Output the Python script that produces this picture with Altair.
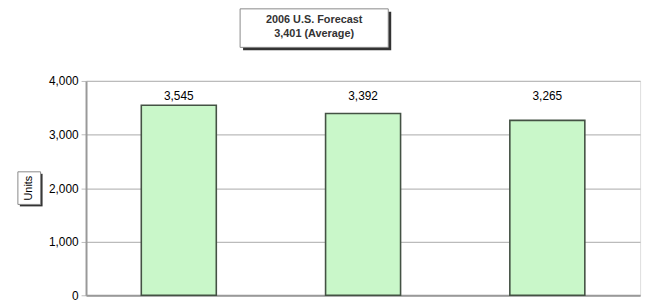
import altair as alt
import pandas as pd

categories = ["A", "B", "C"]
values = [3545, 3392, 3265]
labels = ["3,545", "3,392", "3,265"]
title_lines = ["2006 U.S. Forecast", "3,401 (Average)"]
y_title = "Units"

df = pd.DataFrame({"cat": categories, "value": values, "label": labels})

W, H = 561, 217
FONT = "Liberation Sans"

xscale = alt.Scale(domain=categories, paddingInner=0.593, paddingOuter=0.3)
yscale = alt.Scale(domain=[0, 4000])

base = alt.Chart(df)

bars = base.mark_bar(fill="#c9f7c9", stroke="#445244", strokeWidth=1.6).encode(
    x=alt.X("cat:N", scale=xscale, sort=categories,
            axis=alt.Axis(labels=False, ticks=False, title=None, domainColor="#999999", domainWidth=2)),
    y=alt.Y("value:Q", scale=yscale,
            axis=alt.Axis(values=[0, 1000, 2000, 3000, 4000], format=",d", title=None,
                          labelFont=FONT, labelFontSize=12, labelColor="#000000",
                          gridColor="#bbbbbb", gridWidth=1.2, domainColor="#999999", domainWidth=2,
                          tickColor="#bbbbbb", tickSize=5, labelPadding=3)),
)

bar_labels = base.mark_text(font=FONT, fontSize=12, color="#000000", baseline="middle").encode(
    x=alt.X("cat:N", scale=xscale, sort=categories),
    y=alt.value(15),
    text="label:N",
)

# decorative title box
tdf = pd.DataFrame({"line": title_lines, "i": [0, 1]})
title_shadow = alt.Chart(pd.DataFrame({"a": [0]})).mark_rect(fill="#333333").encode(
    x=alt.value(159), x2=alt.value(309), y=alt.value(-70), y2=alt.value(-31))
title_box = alt.Chart(pd.DataFrame({"a": [0]})).mark_rect(fill="#ffffff", stroke="#888888", strokeWidth=1).encode(
    x=alt.value(156), x2=alt.value(306), y=alt.value(-73), y2=alt.value(-34))
title_text = alt.Chart(tdf).mark_text(font=FONT, fontSize=11, fontWeight="bold", color="#333333",
                                      baseline="middle").encode(
    x=alt.value(231),
    y=alt.Y("i:Q", scale=alt.Scale(domain=[0, 1], range=[-62, -47]), axis=None),
    text="line:N",
)

# decorative y title box
ydf = pd.DataFrame({"t": [y_title]})
y_shadow = alt.Chart(pd.DataFrame({"a": [0]})).mark_rect(fill="#333333").encode(
    x=alt.value(-67), x2=alt.value(-44), y=alt.value(94), y2=alt.value(127))
y_box = alt.Chart(pd.DataFrame({"a": [0]})).mark_rect(fill="#ffffff", stroke="#888888", strokeWidth=1).encode(
    x=alt.value(-69), x2=alt.value(-46), y=alt.value(92), y2=alt.value(125))
y_text = alt.Chart(ydf).mark_text(font=FONT, fontSize=11, color="#000000", angle=270,
                                  baseline="middle").encode(
    x=alt.value(-57.5), y=alt.value(108.5), text="t:N")

chart = alt.layer(
    bars, bar_labels, title_shadow, title_box, title_text, y_shadow, y_box, y_text
).resolve_scale(y="independent").properties(
    width=W, height=H,
    autosize=alt.AutoSizeParams(type="none"),
    padding={"left": 79, "top": 72, "right": 9, "bottom": 10},
).configure_view(stroke="#aaaaaa", strokeWidth=2).configure(background="#ffffff")

chart.save("out.html", embed_options={"renderer": "svg", "actions": False})
